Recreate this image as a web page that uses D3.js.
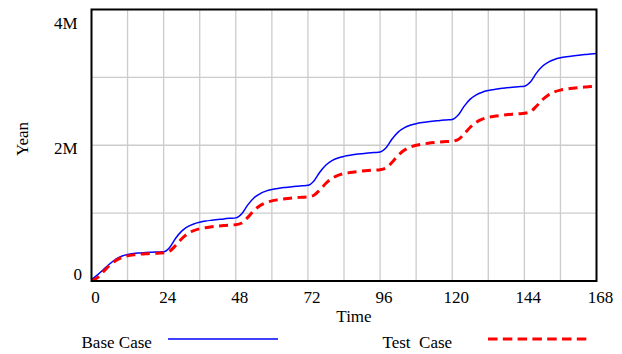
<html>
<head>
<meta charset="utf-8">
<script src="https://d3js.org/d3.v7.min.js"></script>
<style>
  body { margin: 0; background: #fff; }
  text { font-family: "Liberation Serif", "Times New Roman", serif; font-size: 17px; fill: #000; }
</style>
</head>
<body>
<svg width="622" height="354"></svg>
<script>
// hours sampled every 2h from 0 to 168
var hours = d3.range(0, 169, 2);

// Base Case (millions)
var baseCase = [
  0.02, 0.09, 0.17, 0.25, 0.32, 0.365, 0.39, 0.405, 0.413, 0.42, 0.424, 0.427,
  0.43, 0.495, 0.63, 0.735, 0.80, 0.84, 0.865, 0.883, 0.895, 0.905, 0.915, 0.923,
  0.93, 0.992, 1.122, 1.223, 1.285, 1.324, 1.348, 1.364, 1.376, 1.386, 1.396, 1.403,
  1.41, 1.474, 1.606, 1.709, 1.773, 1.812, 1.836, 1.853, 1.866, 1.876, 1.885, 1.893,
  1.90, 1.962, 2.092, 2.193, 2.255, 2.294, 2.318, 2.334, 2.346, 2.356, 2.366, 2.373,
  2.38, 2.444, 2.576, 2.679, 2.743, 2.782, 2.806, 2.823, 2.836, 2.846, 2.855, 2.863,
  2.87, 2.932, 3.062, 3.163, 3.225, 3.264, 3.288, 3.304, 3.316, 3.326, 3.336, 3.343,
  3.35
];

// Test Case (millions)
var testCase = [
  0.0, 0.05, 0.14, 0.23, 0.30, 0.345, 0.37, 0.385, 0.395, 0.40, 0.405, 0.41,
  0.415, 0.44, 0.523, 0.623, 0.697, 0.743, 0.77, 0.786, 0.799, 0.809, 0.818, 0.824,
  0.83, 0.855, 0.937, 1.035, 1.109, 1.154, 1.181, 1.197, 1.209, 1.22, 1.228, 1.234,
  1.24, 1.264, 1.344, 1.44, 1.512, 1.556, 1.582, 1.598, 1.61, 1.62, 1.628, 1.634,
  1.64, 1.665, 1.749, 1.85, 1.926, 1.972, 1.999, 2.016, 2.029, 2.039, 2.047, 2.054,
  2.06, 2.085, 2.167, 2.265, 2.339, 2.384, 2.411, 2.427, 2.439, 2.45, 2.458, 2.464,
  2.47, 2.494, 2.574, 2.67, 2.742, 2.786, 2.812, 2.828, 2.84, 2.85, 2.858, 2.864,
  2.87
];

var xTicks = [0, 24, 48, 72, 96, 120, 144, 168];
var xGrid = [12, 24, 36, 48, 60, 72, 84, 96, 108, 120, 132, 144, 156];
var yGrid = [1, 2, 3];
var yLabels = [{v: 4, t: "4M"}, {v: 2, t: "2M"}, {v: 0, t: "0"}];

var svg = d3.select("svg");
var x = d3.scaleLinear().domain([0, 168]).range([91.5, 596.5]);
var y = d3.scaleLinear().domain([0, 4]).range([281, 9.5]);

// grid
svg.append("g").selectAll("line").data(xGrid).enter().append("line")
  .attr("x1", d => x(d)).attr("x2", d => x(d))
  .attr("y1", y(4)).attr("y2", y(0))
  .attr("stroke", "#cccccc").attr("stroke-width", 1.3);
svg.append("g").selectAll("line").data(yGrid).enter().append("line")
  .attr("x1", x(0)).attr("x2", x(168))
  .attr("y1", d => y(d)).attr("y2", d => y(d))
  .attr("stroke", "#cccccc").attr("stroke-width", 1.3);

// series
var line = d3.line().curve(d3.curveMonotoneX);
svg.append("path")
  .attr("d", line(hours.map((h, i) => [x(h), y(baseCase[i])])))
  .attr("fill", "none").attr("stroke", "#0000ff").attr("stroke-width", 1.5);
svg.append("path")
  .attr("d", line(hours.map((h, i) => [x(h), y(testCase[i])])))
  .attr("fill", "none").attr("stroke", "#ff0000").attr("stroke-width", 3)
  .attr("stroke-dasharray", "9,5.5");

// frame
svg.append("rect")
  .attr("x", x(0)).attr("y", y(4))
  .attr("width", x(168) - x(0)).attr("height", y(0) - y(4))
  .attr("fill", "none").attr("stroke", "#000").attr("stroke-width", 2);

// y labels
svg.selectAll(".ylab").data(yLabels).enter().append("text")
  .attr("class", "ylab")
  .attr("text-anchor", "end")
  .attr("x", d => d.v === 0 ? 82 : 77.5)
  .attr("y", d => d.v === 4 ? 28.5 : (d.v === 2 ? 153.5 : 279.5))
  .text(d => d.t);

svg.append("text")
  .attr("transform", "translate(28,139) rotate(-90)")
  .attr("text-anchor", "middle")
  .text("Yean");

// x labels
svg.selectAll(".xlab").data(xTicks).enter().append("text")
  .attr("class", "xlab")
  .attr("text-anchor", "middle")
  .attr("x", d => x(d) + 4)
  .attr("y", 302.5)
  .text(d => d);

svg.append("text")
  .attr("x", 354).attr("y", 321.5)
  .attr("text-anchor", "middle")
  .text("Time");

// legend
svg.append("text").attr("x", 81.5).attr("y", 347.5).text("Base Case");
svg.append("line")
  .attr("x1", 168).attr("x2", 278).attr("y1", 339).attr("y2", 339)
  .attr("stroke", "#0000ff").attr("stroke-width", 1.5);
svg.append("text").attr("x", 382.5).attr("y", 347.5)
  .attr("xml:space", "preserve").style("white-space", "pre")
  .text("Test  Case");
svg.append("line")
  .attr("x1", 488).attr("x2", 588.5).attr("y1", 339).attr("y2", 339)
  .attr("stroke", "#ff0000").attr("stroke-width", 3)
  .attr("stroke-dasharray", "9.5,5.3");
</script>
</body>
</html>
